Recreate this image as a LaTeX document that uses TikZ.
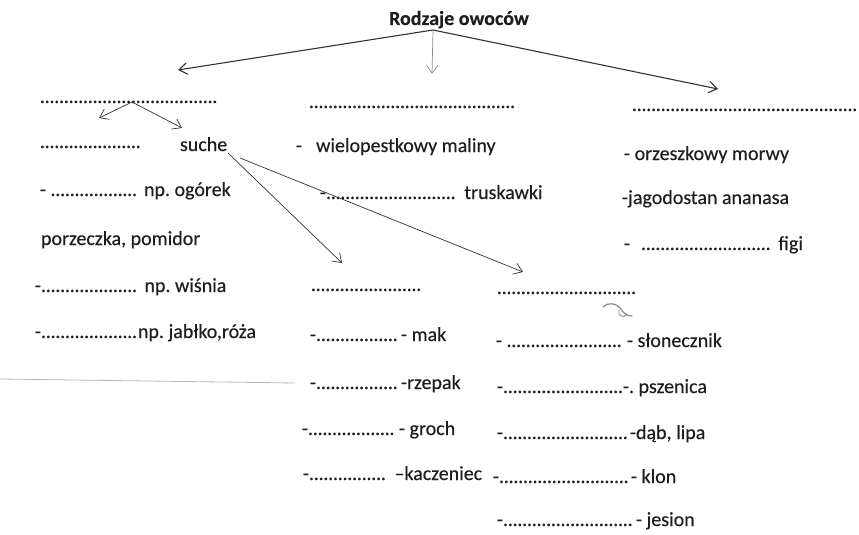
\documentclass[tikz,border=0pt]{standalone}
\usepackage{fontspec}
\setmainfont{Carlito}[FakeBold=0.3]
\usetikzlibrary{arrows.meta}
\definecolor{ink}{HTML}{1E1E1E}
\definecolor{penline}{HTML}{333333}
\definecolor{greyline}{HTML}{8C8C8C}
% row of dots to be filled in, of a given width
\newcommand\dl[1]{\hbox to #1{\leaders\hbox to 4.8pt{\hss.\hss}\hfill}}
\frenchspacing

\begin{document}
\begin{tikzpicture}[x=1pt,y=-1pt,
  txt/.style={anchor=base west, inner sep=0pt, outer sep=0pt, text=ink,
              font=\fontsize{20}{24}\selectfont},
  heading/.style={anchor=base, inner sep=0pt, outer sep=0pt, text=ink,
              font=\fontsize{20}{24}\selectfont\bfseries},
  thick conn/.style={draw=penline, line width=1.1pt, -{Straight Barb[angle=70:10pt]}},
  light conn/.style={draw=greyline, line width=0.7pt, -{Straight Barb[angle=70:10pt]}},
  conn/.style={draw=penline, line width=0.7pt, -{Straight Barb[angle=70:10pt]}},
  smudge/.style={draw=greyline, line width=1.2pt, line cap=round}]
\useasboundingbox[fill=white] (0,0) rectangle (859,535);

% heading
\node[heading] (title) at (459,25) {Rodzaje owoców};

% left column
\node[txt] (l0) at (40,103) {\dl{180pt}};
\node[txt] (l1) at (40,148) {\dl{105pt}};
\node[txt] (suche) at (180,151) {suche};
\node[txt] (l2) at (40,196) {- \dl{89pt} np. ogórek};
\node[txt] (l3) at (41,245) {porzeczka, pomidor};
\node[txt] (l4) at (35,292) {-\dl{99pt} np. wiśnia};
\node[txt] (l5) at (35,338) {-\dl{97pt}np. jabłko,róża};

% middle column
\node[txt] (m0) at (309,108) {\dl{208pt}};
\node[txt] (m1) at (296,152) {-\hspace{14pt}wielopestkowy maliny};
\node[txt] (m2) at (320,199) {-\dl{134pt} truskawki};
\node[txt] (m3) at (311,291) {\dl{111pt}};
\node[txt] (m4) at (310,341) {-\dl{85pt}- mak};
\node[txt] (m5) at (310,389) {-\dl{85pt}-rzepak};
\node[txt] (m6) at (302,435) {-\dl{91pt}- groch};
\node[txt] (m7) at (303,480) {-\dl{81pt} –kaczeniec};

% right column
\node[txt] (r0) at (632,111) {\dl{227pt}};
\node[txt] (r1) at (624,160) {- orzeszkowy morwy};
\node[txt] (r2) at (622,204) {-jagodostan ananasa};
\node[txt] (r3) at (624,250) {-\hspace{11pt}\dl{133pt} figi};
\node[txt] (r4) at (497,294) {\dl{141pt}};
\node[txt] (r5) at (496,347) {- \dl{116pt} - słonecznik};
\node[txt] (r6) at (497,393) {-\dl{120pt}-. pszenica};
\node[txt] (r7) at (497,439) {-\dl{127pt}-dąb, lipa};
\node[txt] (r8) at (493,483) {-\dl{132pt}- klon};
\node[txt] (r9) at (497,526) {-\dl{133pt}- jesion};

% connector ends
\coordinate (tfoot) at (433,30);
\coordinate (tleft) at (178,70);
\coordinate (tmid) at (432,74);
\coordinate (tright) at (718,89);
\coordinate (split) at (132,102);
\coordinate (sleft) at (99,118);
\coordinate (sright) at (182,128);
\coordinate (sfootA) at (228,153);
\coordinate (sfootB) at (240,158);
\coordinate (dryA) at (342,263);
\coordinate (dryB) at (523,272);

% connectors
\draw[thick conn] (tfoot) -- (tleft);
\draw[light conn] (tfoot) -- (tmid);
\draw[thick conn] (tfoot) -- (tright);
\draw[conn] (split) -- (sleft);
\draw[conn] (split) -- (sright);
\draw[conn] (sfootA) -- (dryA);
\draw[conn] (sfootB) -- (dryB);

% faint rule across the lower left
\draw[greyline, line width=0.8pt, opacity=0.6] (0,379) -- (295,383);

% small pencil smudge under the right dotted row
\draw[smudge] (603,307) .. controls (608,302) and (616,303) .. (620,308)
  .. controls (623,313) and (627,316) .. (632,316);
\draw[smudge, line width=0.9pt] (619,310) .. controls (617,316) and (624,319) .. (627,314);
\end{tikzpicture}
\end{document}
